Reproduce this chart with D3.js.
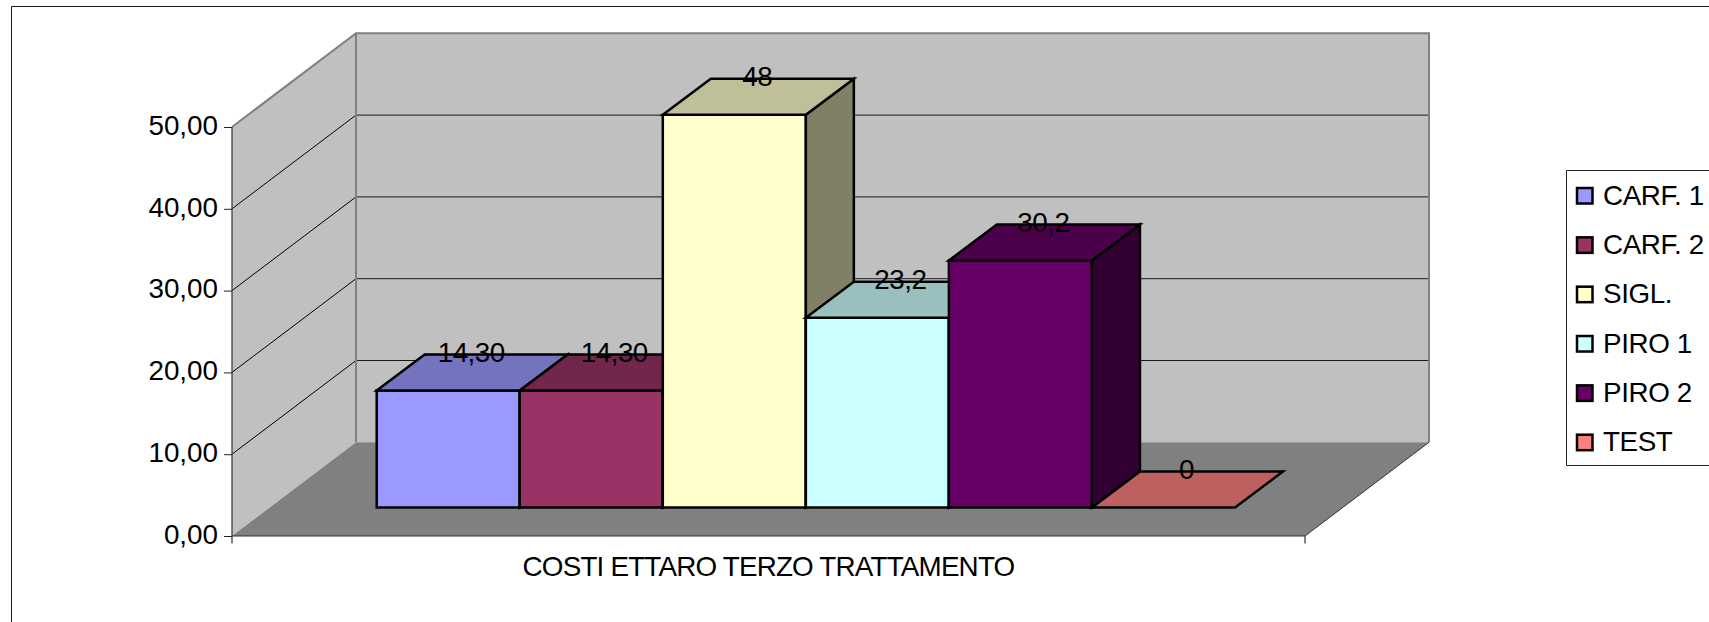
<!DOCTYPE html>
<html><head><meta charset="utf-8">
<script src="https://cdn.jsdelivr.net/npm/d3@7"></script>
<style>html,body{margin:0;padding:0;background:#fff;overflow:hidden}svg{display:block}text{font-family:"Liberation Sans",Arial,sans-serif;font-size:27.8px;fill:#000}</style>
</head><body><svg id="c" width="1709" height="622"></svg>
<script>
const seriesNames=["CARF. 1","CARF. 2","SIGL.","PIRO 1","PIRO 2","TEST"];
const seriesValues=[14.3,14.3,48,23.2,30.2,0];
const dataLabels=["14,30","14,30","48","23,2","30,2","0"];
const frontColors=["#9999FF","#993366","#FFFFCC","#CCFFFF","#660066","#FF8080"];
const topColors=["#7373BF","#73264C","#BFBF99","#99BFBF","#4C004C","#BF6060"];
const sideColors=["#4D4D80","#4D1933","#808066","#668080","#330033","#804040"];
const yTicks=[0,10,20,30,40,50];
const category="COSTI ETTARO TERZO TRATTAMENTO";

const svg=d3.select("#c");
const y=d3.scaleLinear().domain([0,50]).range([536,127]);
const wallX=d3.scaleLinear().domain([0,1]).range([232,1305]);
const barX=d3.scaleBand().domain(seriesNames).range([376.7,1235]);
const wallDx=124,wallDy=-93.7,barDx=48,barDy=-36,barBase=507.5;
const barY=v=>barBase-(y(0)-y(v));
const poly=p=>p.map(q=>q.join(",")).join(" ");

// outer border
svg.append("path").attr("d","M11.5,622V6.5H1709").attr("fill","none").attr("stroke","#1a1a1a").attr("stroke-width",1);

const x0=wallX(0),x1=wallX(1),y0=y(0),yT=y(50);
// walls
svg.append("polygon").attr("points",poly([[x0,y0],[x0,yT],[x0+wallDx,yT+wallDy],[x0+wallDx,y0+wallDy]])).attr("fill","#C0C0C0");
svg.append("polygon").attr("points",poly([[x0+wallDx,yT+wallDy],[x1+wallDx,yT+wallDy],[x1+wallDx,y0+wallDy],[x0+wallDx,y0+wallDy]])).attr("fill","#C0C0C0");
svg.append("polygon").attr("points",poly([[x0,y0],[x1,y0],[x1+wallDx,y0+wallDy],[x0+wallDx,y0+wallDy]])).attr("fill","#808080");
// gridlines
svg.append("g").selectAll("path").data(yTicks.filter(t=>t>0&&t<50)).join("path")
  .attr("d",t=>`M${x0},${y(t)}L${x0+wallDx},${y(t)+wallDy}`).attr("fill","none").attr("stroke","#000").attr("stroke-width",1);
svg.append("g").selectAll("path").data(yTicks.filter(t=>t>0&&t<50)).join("path")
  .attr("d",t=>`M${x0+wallDx},${y(t)+wallDy}H${x1+wallDx}`).attr("fill","none").attr("stroke","#1a1a1a").attr("stroke-width",1);
// wall edges
svg.append("path").attr("d",`M${x0},${yT}L${x0+wallDx},${yT+wallDy}H${x1+wallDx}V${y0+wallDy}M${x0+wallDx},${yT+wallDy}V${y0+wallDy}`)
  .attr("fill","none").attr("stroke","#808080").attr("stroke-width",2);
// floor outer edge
svg.append("path").attr("d",`M${x1},${y0}L${x1+wallDx},${y0+wallDy}`).attr("fill","none").attr("stroke","#333").attr("stroke-width",1);

// axes
const axisL=d3.axisLeft(y).tickValues(yTicks).tickSize(8).tickPadding(6).tickFormat(v=>d3.format(".2f")(v).replace(".",","));
const gL=svg.append("g").attr("transform",`translate(${x0},0)`).call(axisL);
gL.select(".domain").remove();
gL.selectAll("line").attr("stroke","#222");
gL.selectAll("text").attr("font-size",null).attr("font-family",null).style("font-family",'"Liberation Sans"').style("font-size","27.8px").attr("fill","#000").attr("dy","0.26em");
svg.append("path").attr("d",`M${x0},${yT}V${y0+7.5}M${x0},${y0}H${x1}M${x1},${y0}V${y0+7.5}`).attr("fill","none").attr("stroke","#333").attr("stroke-width",1.2);
svg.append("text").attr("x",(x0+x1)/2).attr("y",576).attr("text-anchor","middle").style("letter-spacing","-0.8px").text(category);

// bars
const w=barX.bandwidth();
const bars=svg.append("g").selectAll("g").data(seriesValues).join("g")
  .attr("stroke","#000").attr("stroke-width",2.5).attr("stroke-linejoin","miter");
bars.each(function(v,i){
  const g=d3.select(this),l=barX(seriesNames[i]),r=l+w,t=barY(v);
  if(v>0){
    g.append("polygon").attr("points",poly([[l,t],[r,t],[r,barBase],[l,barBase]])).attr("fill",frontColors[i]);
    g.append("polygon").attr("points",poly([[r,t],[r+barDx,t+barDy],[r+barDx,barBase+barDy],[r,barBase]])).attr("fill",sideColors[i]);
  }
  g.append("polygon").attr("points",poly([[l,t],[l+barDx,t+barDy],[r+barDx,t+barDy],[r,t]])).attr("fill",topColors[i]);
});
// data labels
svg.append("g").selectAll("text").data(seriesValues).join("text")
  .attr("x",(v,i)=>barX(seriesNames[i])+w/2+barDx/2-1)
  .attr("y",v=>barY(v)+barDy+7.5).attr("text-anchor","middle").style("letter-spacing","-0.5px").text((v,i)=>dataLabels[i]);

// legend
svg.append("path").attr("d","M1709,170.5H1566.5V465.5H1709").attr("fill","none").attr("stroke","#222").attr("stroke-width",1);
const ly=d3.scalePoint().domain(seriesNames).range([196,442.7]);
const lg=svg.append("g").selectAll("g").data(seriesNames).join("g").attr("transform",d=>`translate(0,${ly(d)})`);
lg.append("rect").attr("x",1577).attr("y",-8).attr("width",15.5).attr("height",15.5).attr("fill",(d,i)=>frontColors[i]).attr("stroke","#000").attr("stroke-width",2.5);
lg.append("text").attr("x",1603).attr("y",8.5).style("letter-spacing","-0.4px").text(d=>d);
</script></body></html>
